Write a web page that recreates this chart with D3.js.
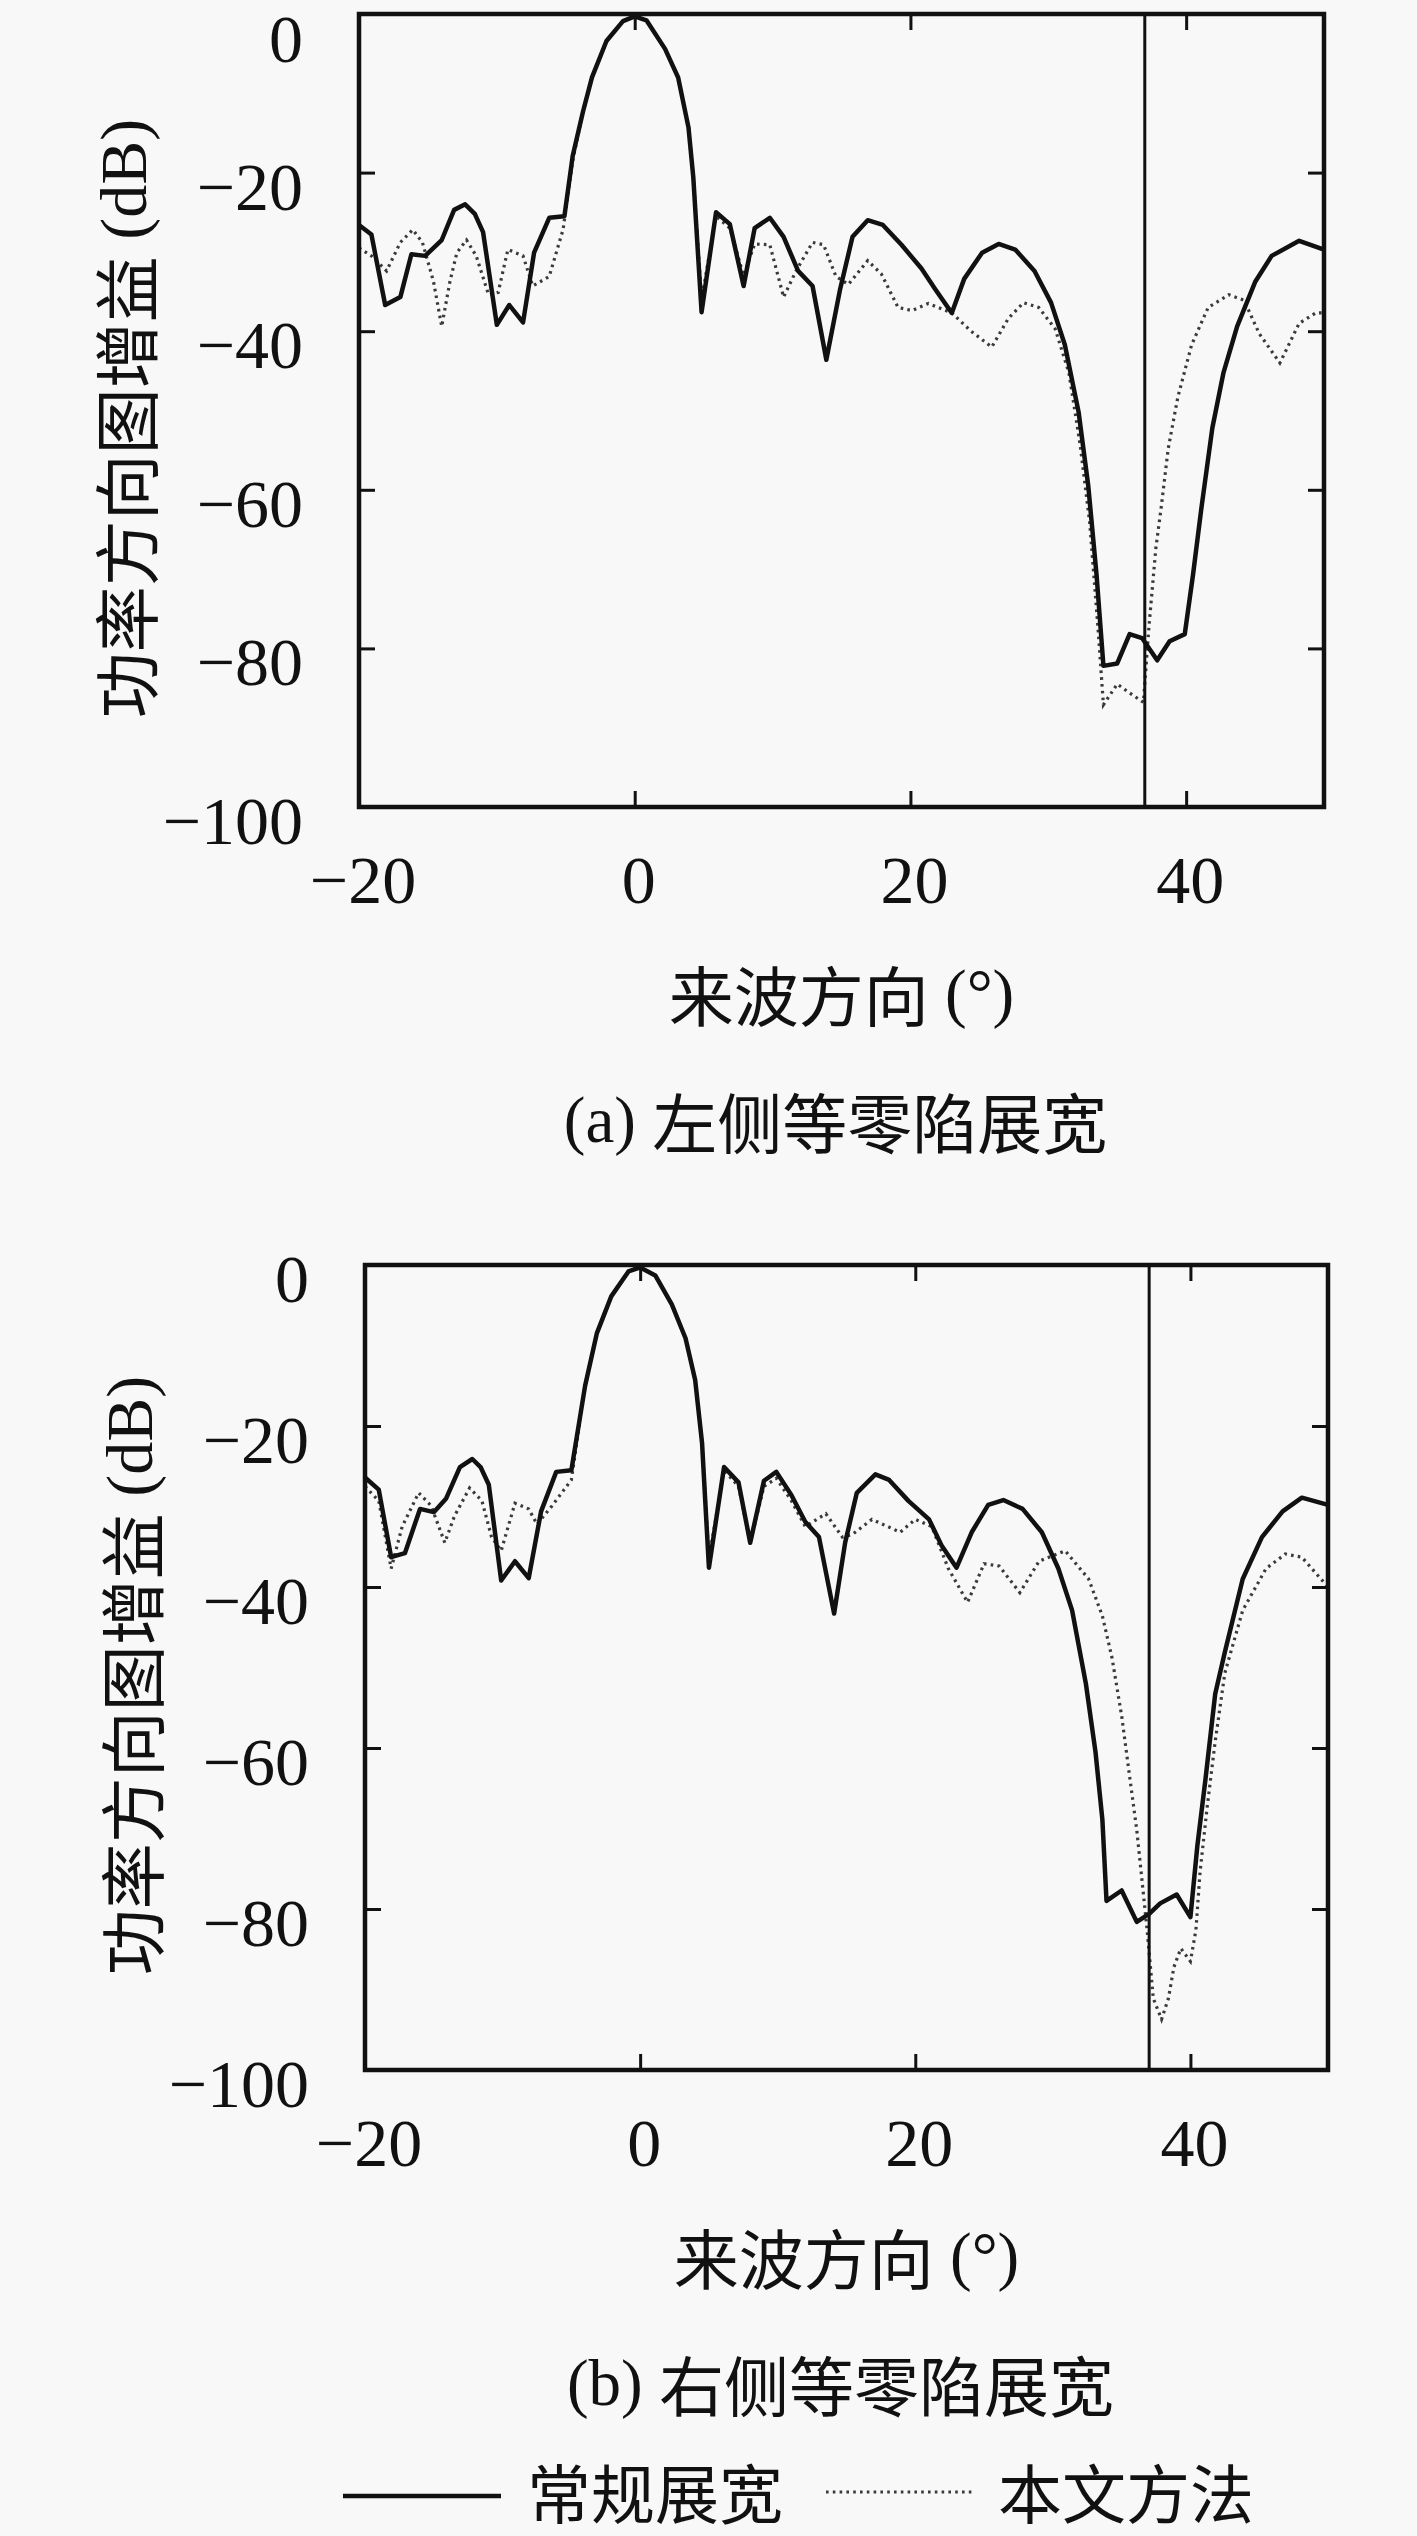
<!DOCTYPE html>
<html>
<head>
<meta charset="utf-8">
<script src="https://cdn.jsdelivr.net/npm/d3@7"></script>
<style>
  html, body { margin: 0; padding: 0; background: #f8f8f8; }
  svg { display: block; }
</style>
</head>
<body>
<div id="chart"></div>
<script>
// ---------------- DATA ----------------
const xTicks = [-20, 0, 20, 40];
const yTicks = [0, -20, -40, -60, -80, -100];
const xTickLabels = ["\u221220", "0", "20", "40"];
const yTickLabels = ["0", "\u221220", "\u221240", "\u221260", "\u221280", "\u2212100"];
const nullAngle = 37;

const legendLabels = ["常规展宽", "本文方法"];
const xTitleCJK = "来波方向";
const yTitleCJK = "功率方向图增益";
const captionsTag = ["(a)", "(b)"];
const captionsCJK = ["左侧等零陷展宽", "右侧等零陷展宽"];

// (a) left-side null widening: [angle (deg), gain (dB)]
const solidA = [[-20,-26.6],[-19.1,-27.8],[-18.1,-36.7],[-17.0,-35.7],[-16.2,-30.3],[-15.2,-30.5],[-14.0,-28.5],[-13.1,-24.7],[-12.3,-24.0],[-11.6,-25.2],[-11.0,-27.5],[-10.0,-39.2],[-9.1,-36.7],[-8.1,-38.9],[-7.3,-30.1],[-6.2,-25.7],[-5.1,-25.5],[-4.5,-17.9],[-3.75,-12.3],[-3.1,-8.0],[-2.05,-3.4],[-0.85,-0.9],[0,-0.3],[0.85,-0.8],[2.2,-4.4],[3.15,-8.0],[3.9,-14.3],[4.25,-20.6],[4.85,-37.6],[5.9,-25.0],[6.9,-26.5],[7.9,-34.3],[8.7,-27.0],[9.8,-25.7],[10.8,-28.1],[11.85,-32.4],[12.9,-34.3],[13.9,-43.6],[14.9,-34.7],[15.8,-28.1],[16.9,-26.0],[18.0,-26.6],[19.35,-29.1],[20.8,-32.1],[21.8,-34.7],[23.0,-37.7],[23.9,-33.4],[25.2,-30.1],[26.4,-29.0],[27.6,-29.7],[29.0,-32.4],[30.2,-36.4],[31.2,-41.7],[32.2,-50.2],[32.9,-59.5],[33.5,-70.7],[34.0,-82.2],[35.0,-81.9],[35.9,-78.2],[36.8,-78.7],[37.9,-81.5],[38.8,-79.1],[39.9,-78.2],[40.5,-70.7],[41.1,-62.4],[41.9,-52.2],[42.7,-45.3],[43.7,-39.4],[45.0,-33.8],[46.2,-30.5],[48.2,-28.6],[50,-29.7]];
const dottedA = [[-20,-29.5],[-19.1,-30.5],[-18.0,-32.4],[-17.0,-28.8],[-16.1,-27.2],[-15.4,-28.8],[-14.6,-33.7],[-14.0,-39.4],[-13.4,-33.7],[-12.9,-30.1],[-12.2,-28.5],[-11.5,-30.5],[-10.6,-35.4],[-9.9,-35.1],[-9.2,-29.7],[-8.1,-30.5],[-7.4,-34.3],[-6.2,-33.1],[-5.2,-27.2],[-4.5,-18.5],[-3.75,-12.3],[-3.1,-8.0],[-2.05,-3.4],[-0.85,-0.9],[0,-0.3],[0.85,-0.8],[2.2,-4.4],[3.15,-8.0],[3.9,-14.3],[4.25,-20.6],[4.85,-36.0],[5.9,-25.5],[6.9,-27.0],[7.9,-33.0],[8.7,-29.0],[9.8,-29.1],[10.8,-35.7],[11.7,-32.4],[12.9,-28.8],[13.7,-29.1],[14.6,-33.1],[15.5,-34.1],[16.9,-31.1],[17.9,-32.8],[19.1,-37.0],[20.1,-37.4],[21.3,-36.5],[23.0,-37.7],[24.4,-40.0],[25.9,-42.0],[27.1,-38.4],[28.2,-36.4],[29.3,-37.0],[30.5,-39.7],[31.5,-45.3],[32.3,-54.2],[33.0,-64.1],[33.6,-77.3],[34.0,-87.1],[35.0,-84.5],[35.8,-85.5],[36.9,-86.8],[37.3,-77.3],[37.8,-67.4],[38.2,-62.1],[38.7,-54.8],[39.4,-48.3],[40.4,-41.7],[41.6,-37.0],[43.1,-35.4],[44.2,-36.1],[45.3,-40.3],[46.8,-44.0],[48.2,-39.0],[49.4,-37.7],[50,-37.7]];

// (b) right-side null widening
const solidB = [[-20,-26.4],[-19.0,-27.9],[-18.1,-36.3],[-17.1,-35.8],[-16.0,-30.3],[-15.0,-30.7],[-14.1,-29.0],[-13.1,-25.1],[-12.2,-24.1],[-11.6,-25.1],[-11.0,-27.3],[-10.1,-39.2],[-9.1,-36.8],[-8.1,-38.9],[-7.2,-30.6],[-6.1,-25.7],[-5.0,-25.5],[-4.0,-15.0],[-3.15,-8.5],[-2.1,-3.9],[-0.85,-0.8],[0,-0.3],[1.1,-1.3],[2.3,-4.9],[3.3,-9.1],[4.0,-14.3],[4.5,-22.1],[5.0,-37.6],[6.1,-25.1],[7.15,-27.0],[8.0,-34.5],[9.0,-26.8],[9.9,-25.7],[11.0,-28.6],[12.0,-31.9],[13.0,-33.8],[14.1,-43.3],[14.9,-34.5],[15.75,-28.3],[17.1,-26.0],[18.1,-26.7],[19.5,-29.3],[21.0,-31.6],[21.9,-34.8],[23.0,-37.6],[24.1,-33.2],[25.3,-29.8],[26.4,-29.2],[27.8,-30.3],[29.2,-33.2],[30.4,-37.7],[31.4,-42.9],[32.4,-52.0],[33.1,-60.5],[33.6,-68.9],[33.9,-79.0],[35.0,-77.7],[36.1,-81.6],[37.0,-80.6],[37.8,-79.3],[39.0,-78.2],[40.0,-81.0],[40.5,-72.2],[41.1,-63.8],[41.8,-53.3],[42.5,-48.1],[43.8,-39.0],[45.2,-33.8],[46.7,-30.6],[48.1,-28.9],[50,-29.8]];
const dottedB = [[-20,-27.5],[-19.0,-29.3],[-18.1,-37.7],[-17.3,-32.5],[-16.1,-28.3],[-15.2,-29.9],[-14.2,-34.5],[-13.5,-31.2],[-12.4,-27.7],[-11.5,-29.3],[-10.8,-33.8],[-10.1,-35.5],[-9.1,-29.6],[-8.1,-30.3],[-7.5,-32.2],[-6.4,-29.9],[-5.0,-26.7],[-4.0,-15.0],[-3.15,-8.5],[-2.1,-3.9],[-0.85,-0.8],[0,-0.3],[1.1,-1.3],[2.3,-4.9],[3.3,-9.1],[4.0,-14.3],[4.5,-22.1],[5.0,-36.5],[6.1,-25.5],[7.15,-27.5],[8.0,-34.5],[9.0,-27.5],[9.9,-26.5],[11.0,-29.3],[12.0,-32.5],[13.5,-30.9],[14.7,-33.8],[15.4,-33.5],[16.85,-31.6],[18.9,-33.2],[20.0,-31.6],[21.2,-32.5],[22.4,-37.7],[23.8,-41.9],[25.0,-37.1],[26.1,-37.4],[27.6,-40.7],[29.0,-36.8],[30.9,-35.5],[32.6,-39.0],[33.6,-43.6],[34.3,-48.8],[35.0,-56.0],[35.6,-63.8],[36.1,-70.2],[36.5,-76.8],[36.85,-82.6],[37.3,-91.1],[37.9,-93.7],[38.4,-91.1],[38.8,-87.2],[39.3,-84.9],[40.0,-86.5],[40.4,-82.6],[40.7,-75.4],[41.2,-67.6],[41.8,-59.2],[42.5,-50.7],[43.8,-42.9],[45.5,-37.7],[46.9,-35.9],[48.1,-36.3],[50,-40.0]];

// ---------------- DRAWING ----------------
const W = 1417, H = 2536;
const serif = "'Liberation Serif', 'DejaVu Serif', serif";
const cjk = "'Noto Sans CJK SC', 'Noto Sans CJK JP', sans-serif";
const svg = d3.select("#chart").append("svg")
  .attr("width", W).attr("height", H)
  .style("background", "#f8f8f8");

const panels = [
  { left: 359, right: 1324, top: 14, bottom: 807, solid: solidA, dotted: dottedA, idx: 0 },
  { left: 365, right: 1328, top: 1265, bottom: 2070, solid: solidB, dotted: dottedB, idx: 1 }
];

const tickFont = 68, cjkFont = 65;
const dotColor = "#3a3a3a", dotWidth = 3.2, dotDash = "2.6 4.2";

panels.forEach(p => {
  const x = d3.scaleLinear().domain([-20, 50]).range([p.left, p.right]);
  const y = d3.scaleLinear().domain([-100, 0]).range([p.bottom, p.top]);
  const g = svg.append("g");

  const line = d3.line().x(d => x(d[0])).y(d => y(d[1]));

  // dotted series (本文方法)
  g.append("path").datum(p.dotted)
    .attr("d", line).attr("fill", "none")
    .attr("stroke", dotColor).attr("stroke-width", dotWidth)
    .attr("stroke-dasharray", dotDash);

  // solid series (常规展宽)
  g.append("path").datum(p.solid)
    .attr("d", line).attr("fill", "none")
    .attr("stroke", "#111").attr("stroke-width", 4.5)
    .attr("stroke-linejoin", "round");

  // null direction marker
  g.append("line")
    .attr("x1", x(nullAngle)).attr("x2", x(nullAngle))
    .attr("y1", y(0)).attr("y2", y(-100))
    .attr("stroke", "#111").attr("stroke-width", 3);

  // axes with inward ticks on all sides
  const tl = 16;
  const axB = d3.axisBottom(x).tickValues(xTicks).tickSize(-tl).tickFormat("");
  const axT = d3.axisTop(x).tickValues(xTicks).tickSize(-tl).tickFormat("");
  const axL = d3.axisLeft(y).tickValues(yTicks).tickSize(-tl).tickFormat("");
  const axR = d3.axisRight(y).tickValues(yTicks).tickSize(-tl).tickFormat("");
  [[axB, `translate(0,${p.bottom})`], [axT, `translate(0,${p.top})`],
   [axL, `translate(${p.left},0)`], [axR, `translate(${p.right},0)`]].forEach(([ax, tr]) => {
    const a = g.append("g").attr("transform", tr).call(ax);
    a.select(".domain").remove();
    a.selectAll(".tick line").attr("stroke", "#111").attr("stroke-width", 3);
  });

  // frame
  g.append("rect")
    .attr("x", p.left).attr("y", p.top)
    .attr("width", p.right - p.left).attr("height", p.bottom - p.top)
    .attr("fill", "none").attr("stroke", "#111").attr("stroke-width", 4.5);

  // tick labels
  g.selectAll(".xl").data(xTicks).enter().append("text")
    .attr("x", (d, i) => x(d) + 4)
    .attr("y", p.bottom + 96)
    .attr("text-anchor", "middle")
    .style("font-family", serif).style("font-size", tickFont + "px").attr("fill", "#111")
    .text((d, i) => xTickLabels[i]);

  g.selectAll(".yl").data(yTicks).enter().append("text")
    .attr("x", p.left - 56)
    .attr("y", d => Math.max(y(d) + 37, 62))
    .attr("text-anchor", "end")
    .style("font-family", serif).style("font-size", tickFont + "px").attr("fill", "#111")
    .text((d, i) => yTickLabels[i]);

  const cx = (p.left + p.right) / 2;

  // x axis title
  const xt = g.append("text")
    .attr("x", cx).attr("y", p.bottom + 186)
    .attr("text-anchor", "middle").attr("dominant-baseline", "central").attr("fill", "#111");
  xt.append("tspan").style("font-family", cjk).style("font-size", cjkFont + "px").text(xTitleCJK);
  xt.append("tspan").style("font-family", serif).style("font-size", cjkFont + "px").text(" (°)");

  // y axis title
  const yt = g.append("text")
    .attr("transform", `translate(${p.left - 236},${(p.top + p.bottom) / 2 + 8}) rotate(-90)`)
    .attr("text-anchor", "middle").attr("dominant-baseline", "central").attr("fill", "#111");
  yt.append("tspan").style("font-family", cjk).style("font-size", "66px").text(yTitleCJK);
  yt.append("tspan").style("font-family", serif).style("font-size", "66px").text(" (dB)");

  // caption
  const cap = g.append("text")
    .attr("x", cx - 6).attr("y", p.bottom + 313)
    .attr("text-anchor", "middle").attr("dominant-baseline", "central").attr("fill", "#111");
  cap.append("tspan").style("font-family", serif).style("font-size", cjkFont + "px").text(captionsTag[p.idx] + " ");
  cap.append("tspan").style("font-family", cjk).style("font-size", cjkFont + "px").text(captionsCJK[p.idx]);
});

// ---------------- LEGEND ----------------
const lg = svg.append("g");
const legY = 2490;
lg.append("line").attr("x1", 343).attr("x2", 501).attr("y1", legY + 6).attr("y2", legY + 6)
  .attr("stroke", "#111").attr("stroke-width", 4.5);
lg.append("text").attr("x", 527).attr("y", legY).attr("dominant-baseline", "central")
  .style("font-family", cjk).style("font-size", "64px").attr("fill", "#111")
  .text(legendLabels[0]);
lg.append("line").attr("x1", 826).attr("x2", 972).attr("y1", legY + 2).attr("y2", legY + 2)
  .attr("stroke", dotColor).attr("stroke-width", dotWidth).attr("stroke-dasharray", dotDash);
lg.append("text").attr("x", 998).attr("y", legY).attr("dominant-baseline", "central")
  .style("font-family", cjk).style("font-size", "64px").attr("fill", "#111")
  .text(legendLabels[1]);
</script>
</body>
</html>
